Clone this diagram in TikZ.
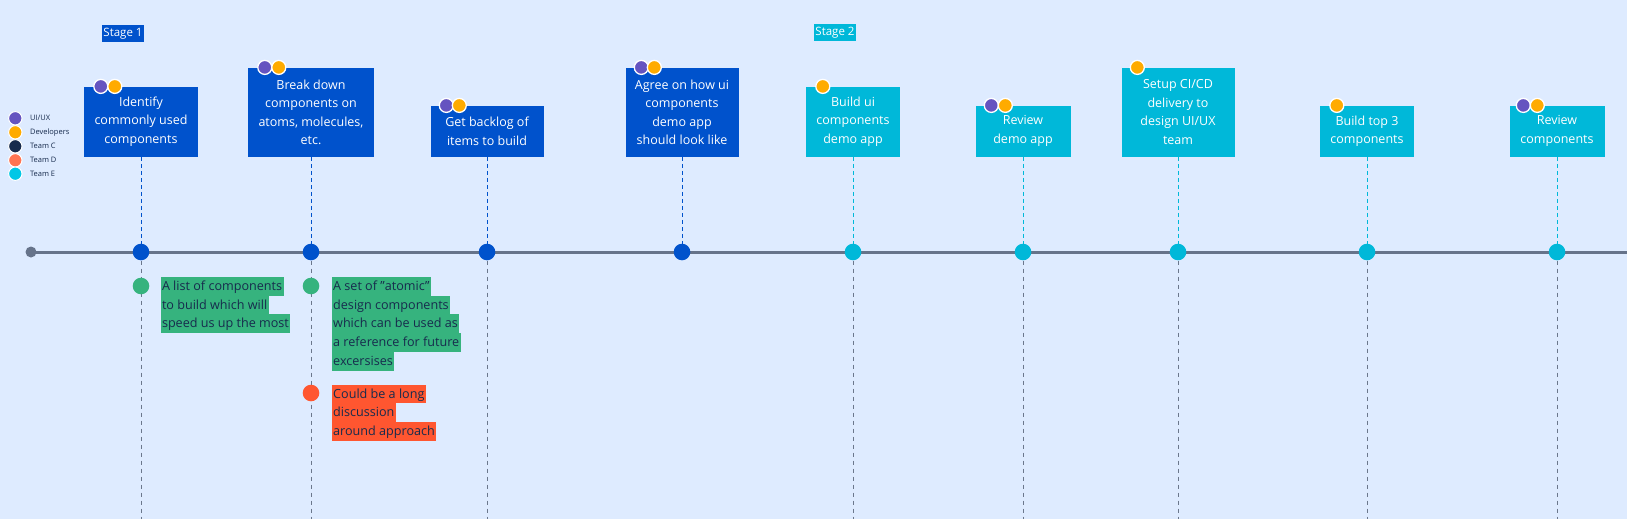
\documentclass[tikz,border=0pt]{standalone}
\usepackage{fontspec}
\setmainfont{Open Sans}
\usetikzlibrary{positioning}

\definecolor{bgblue}{HTML}{DEEBFF}
\definecolor{stageblue}{HTML}{0052CC}
\definecolor{stagecyan}{HTML}{00B8D9}
\definecolor{linegray}{HTML}{66738A}
\definecolor{stemgray}{HTML}{6B778C}
\definecolor{uxpurple}{HTML}{6554C0}
\definecolor{devorange}{HTML}{FFAB00}
\definecolor{teamnavy}{HTML}{172B4D}
\definecolor{teamsalmon}{HTML}{FF7452}
\definecolor{teamcyan}{HTML}{00C7E6}
\definecolor{goalgreen}{HTML}{36B37E}
\definecolor{riskred}{HTML}{FF5630}
\definecolor{inktext}{HTML}{172B4D}

\newcommand{\hlnote}[2]{{\setlength{\fboxsep}{0pt}\colorbox{#1}{\hspace{1.5pt}\rule[-5.2pt]{0pt}{18.7pt}#2\hspace{1.5pt}}}}
\newcommand{\dq}{{\char"22}}

\begin{document}
\begin{tikzpicture}[x=1pt,y=-1pt,
    event/.style={circle,inner sep=0pt,minimum size=16.6pt},
    eventA/.style={event,fill=stageblue},
    eventB/.style={event,fill=stagecyan},
    task/.style={rectangle,inner sep=2pt,align=center,text=white,
      font=\fontsize{12.5}{18.5}\selectfont},
    taskA/.style={task,fill=stageblue},
    taskB/.style={task,fill=stagecyan},
    stagetag/.style={rectangle,inner xsep=1.5pt,inner ysep=0pt,minimum height=17pt,
      text=white,font=\fontsize{11.5}{12}\selectfont},
    avatar/.style={circle,inner sep=0pt,minimum size=14pt,draw=white,line width=1.3pt},
    ux/.style={avatar,fill=uxpurple},
    dev/.style={avatar,fill=devorange},
    legend/.style={circle,inner sep=0pt,minimum size=13.4pt,draw=white,line width=1pt,
      label={[text=inktext,font=\fontsize{7.5}{8}\selectfont,label distance=4pt]right:#1}},
    notedot/.style={circle,inner sep=0pt,minimum size=16.6pt},
    notetext/.style={inner sep=0pt,align=left,anchor=north west,text=inktext,
      font=\fontsize{12.6}{18.7}\selectfont},
    stemA/.style={draw=stageblue,line width=0.9pt,dash pattern=on 4pt off 3pt},
    stemB/.style={draw=stagecyan,line width=0.9pt,dash pattern=on 4pt off 3pt},
    stemgrey/.style={draw=stemgray,line width=1pt,dash pattern=on 4pt off 4pt}]

    \useasboundingbox[fill=bgblue] (0,0) rectangle (1627,519);

    \node[stagetag,fill=stageblue] (stage1) at (123,33.5) {Stage 1};
    \node[stagetag,fill=stagecyan] (stage2) at (835,32.5) {Stage 2};

    \node[legend=UI/UX,fill=uxpurple] (l1) at (15.3,118.3) {};
    \node[legend=Developers,fill=devorange] (l2) at (15.3,132.3) {};
    \node[legend=Team C,fill=teamnavy] (l3) at (15.3,146.3) {};
    \node[legend=Team D,fill=teamsalmon] (l4) at (15.3,160.3) {};
    \node[legend=Team E,fill=teamcyan] (l5) at (15.3,173.7) {};

    \node[circle,inner sep=0pt,minimum size=11pt,fill=linegray] (start) at (31,252) {};
    \coordinate (tend) at (1627,252);
    \draw[linegray,line width=3pt] (start.center) -- (tend);

    \node[eventA] (e1) at (141,252) {};
    \node[eventA] (e2) at (311,252) {};
    \node[eventA] (e3) at (487,252) {};
    \node[eventA] (e4) at (682,252) {};
    \node[eventB] (e5) at (853,252) {};
    \node[eventB] (e6) at (1023,252) {};
    \node[eventB] (e7) at (1178,252) {};
    \node[eventB] (e8) at (1367,252) {};
    \node[eventB] (e9) at (1557,252) {};

    \node[taskA,minimum width=114pt,minimum height=70pt] (b1) [above=86.7pt of e1]
      {Identify\\commonly used\\components};
    \node[taskA,minimum width=126pt,minimum height=89pt] (b2) [above=86.7pt of e2]
      {Break down\\components on\\atoms, molecules,\\etc.};
    \node[taskA,minimum width=113pt,minimum height=51pt] (b3) [above=86.7pt of e3]
      {Get backlog of\\items to build};
    \node[taskA,minimum width=113pt,minimum height=89pt] (b4) [above=86.7pt of e4]
      {Agree on how ui\\components\\demo app\\should look like};
    \node[taskB,minimum width=94pt,minimum height=70pt] (b5) [above=86.7pt of e5]
      {Build ui\\components\\demo app};
    \node[taskB,minimum width=95pt,minimum height=51pt] (b6) [above=86.7pt of e6]
      {Review\\demo app};
    \node[taskB,minimum width=113pt,minimum height=89pt] (b7) [above=86.7pt of e7]
      {Setup CI/CD\\delivery to\\design UI/UX\\team};
    \node[taskB,minimum width=94pt,minimum height=51pt] (b8) [above=86.7pt of e8]
      {Build top 3\\components};
    \node[taskB,minimum width=95pt,minimum height=51pt] (b9) [above=86.7pt of e9]
      {Review\\components};

    \node[ux] (u1) at ([xshift=17pt]b1.north west) {};
    \node[dev] (d1) at ([xshift=31pt]b1.north west) {};
    \node[ux] (u2) at ([xshift=17pt]b2.north west) {};
    \node[dev] (d2) at ([xshift=31pt]b2.north west) {};
    \node[ux] (u3) at ([xshift=16pt]b3.north west) {};
    \node[dev] (d3) at ([xshift=29pt]b3.north west) {};
    \node[ux] (u4) at ([xshift=16pt]b4.north west) {};
    \node[dev] (d4) at ([xshift=29pt]b4.north west) {};
    \node[dev] (d5) at ([xshift=17pt]b5.north west) {};
    \node[ux] (u6) at ([xshift=16pt]b6.north west) {};
    \node[dev] (d6) at ([xshift=30pt]b6.north west) {};
    \node[dev] (d7) at ([xshift=16pt]b7.north west) {};
    \node[dev] (d8) at ([xshift=17pt]b8.north west) {};
    \node[ux] (u9) at ([xshift=14pt]b9.north west) {};
    \node[dev] (d9) at ([xshift=28pt]b9.north west) {};

    \path[stemA] (b1) -- (e1) (b2) -- (e2) (b3) -- (e3) (b4) -- (e4);
    \path[stemB] (b5) -- (e5) (b6) -- (e6) (b7) -- (e7) (b8) -- (e8) (b9) -- (e9);

    \coordinate (f1) at (141,519);
    \coordinate (f2) at (311,519);
    \coordinate (f3) at (487,519);
    \coordinate (f5) at (853,519);
    \coordinate (f6) at (1023,519);
    \coordinate (f7) at (1178,519);
    \coordinate (f8) at (1367,519);
    \coordinate (f9) at (1557,519);
    \path[stemgrey] (e1) -- (f1) (e2) -- (f2) (e3) -- (f3) (e5) -- (f5)
      (e6) -- (f6) (e7) -- (f7) (e8) -- (f8) (e9) -- (f9);

    \node[notedot,fill=goalgreen] (g1) at (141,286) {};
    \node[notedot,fill=goalgreen] (g2) at (311,286) {};
    \node[notedot,fill=riskred] (r2) at (311,393) {};

    \node[notetext] (n1) at (160.3,276.8)
      {\hlnote{goalgreen}{A list of components}\\
       \hlnote{goalgreen}{to build which will}\\
       \hlnote{goalgreen}{speed us up the most}};
    \node[notetext] (n2) at (331.5,276.8)
      {\hlnote{goalgreen}{A set of \dq atomic\dq}\\
       \hlnote{goalgreen}{design components}\\
       \hlnote{goalgreen}{which can be used as}\\
       \hlnote{goalgreen}{a reference for future}\\
       \hlnote{goalgreen}{excersises}};
    \node[notetext] (n3) at (331.5,384.3)
      {\hlnote{riskred}{Could be a long}\\
       \hlnote{riskred}{discussion}\\
       \hlnote{riskred}{around approach}};
\end{tikzpicture}
\end{document}
